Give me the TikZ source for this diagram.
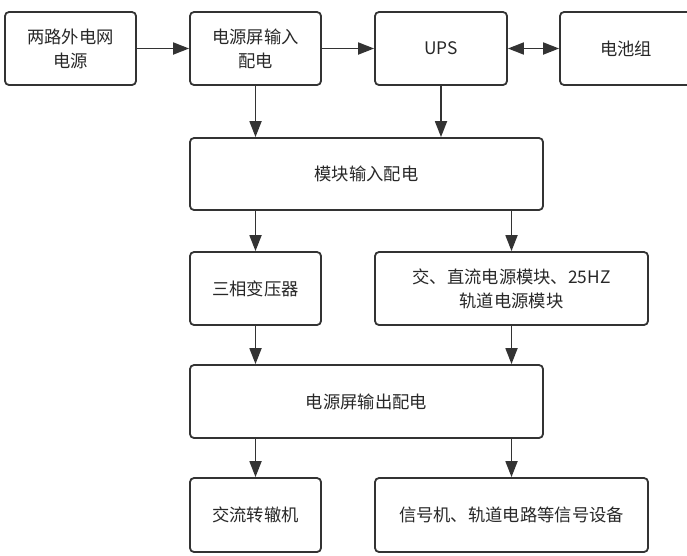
\documentclass[tikz,border=0pt]{standalone}
\usepackage{fontspec}
\setmainfont{Noto Sans CJK SC}
\usetikzlibrary{arrows.meta}
\definecolor{ln}{RGB}{51,51,51}
\definecolor{tx}{RGB}{40,40,40}
\tikzset{
  box/.style={draw=ln, line width=1.8pt, rounded corners=4pt, fill=white,
    inner sep=0pt, align=center, text=tx,
    font=\fontsize{17.3}{24}\selectfont},
  conn/.style={draw=ln, line width=1.8pt, -{Triangle[length=16pt,width=12pt]}},
  biconn/.style={draw=ln, line width=1.8pt, {Triangle[length=16pt,width=12pt]}-{Triangle[length=16pt,width=12pt]}}
}
\begin{document}
\begin{tikzpicture}[x=1pt,y=-1pt]
\useasboundingbox[fill=white] (0,0) rectangle (687,555);
\node[box, minimum width=131pt, minimum height=73pt] (b1) at (70.5,48.5) {两路外电网\\电源};
\node[box, minimum width=131pt, minimum height=73pt] (b2) at (255.5,48.5) {电源屏输入\\配电};
\node[box, minimum width=132pt, minimum height=73pt] (ups) at (441,48.5) {UPS};
\node[box, minimum width=132pt, minimum height=73pt] (bat) at (626,48.5) {电池组};
\node[box, minimum width=353pt, minimum height=72pt] (mod) at (366.5,174) {模块输入配电};
\node[box, minimum width=131pt, minimum height=73pt] (tr) at (255.5,288.5) {三相变压器};
\node[box, minimum width=273pt, minimum height=73pt] (jz) at (511.5,288.5) {交、直流电源模块、25HZ\\轨道电源模块};
\node[box, minimum width=353pt, minimum height=73pt] (out) at (366.5,401.5) {电源屏输出配电};
\node[box, minimum width=131pt, minimum height=74pt] (jl) at (255.5,515) {交流转辙机};
\node[box, minimum width=273pt, minimum height=74pt] (xh) at (511.5,515) {信号机、轨道电路等信号设备};
\draw[conn] (b1) -- (b2);
\draw[conn] (b2) -- (ups);
\draw[biconn] (ups) -- (bat);
\draw[conn] (b2.south) -- (b2.south |- mod.north);
\draw[conn] (ups.south) -- (ups.south |- mod.north);
\draw[conn] (mod.south -| tr.north) -- (tr.north);
\draw[conn] (mod.south -| jz.north) -- (jz.north);
\draw[conn] (tr.south) -- (tr.south |- out.north);
\draw[conn] (jz.south) -- (jz.south |- out.north);
\draw[conn] (out.south -| jl.north) -- (jl.north);
\draw[conn] (out.south -| xh.north) -- (xh.north);
\end{tikzpicture}
\end{document}
